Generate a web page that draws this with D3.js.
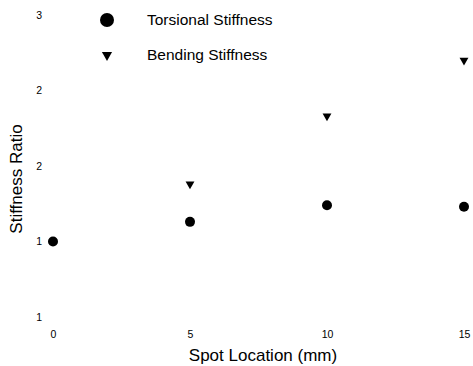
<!DOCTYPE html>
<html>
<head>
<meta charset="utf-8">
<script src="https://cdn.jsdelivr.net/npm/d3@7"></script>
<style>
  body { margin: 0; background: #fff; }
  svg { display: block; font-family: "Liberation Sans", Arial, sans-serif; }
</style>
</head>
<body>
<div id="chart"></div>
<script>
// Data
const spots = [0, 5, 10, 15];
const torsional = [1.0, 1.13, 1.24, 1.23];
const bending = [null, 1.38, 1.83, 2.20];
const yTicks = [0.5, 1.0, 1.5, 2.0, 2.5];
const yTickLabels = ["1", "1", "2", "2", "3"];
const xTicks = [0, 5, 10, 15];
const seriesNames = ["Torsional Stiffness", "Bending Stiffness"];

const width = 473;
const height = 366;

const x = d3.scaleLinear()
    .domain([0, 15])
    .range([53, 464]);

const y = d3.scaleLinear()
    .domain([0.5, 2.5])
    .range([317, 15]);

const svg = d3.select("#chart").append("svg")
    .attr("width", width)
    .attr("height", height);

// y axis (labels only)
svg.append("g")
    .attr("transform", "translate(42,0)")
    .call(d3.axisLeft(y).tickValues(yTicks).tickSize(0).tickPadding(0)
        .tickFormat((d, i) => yTickLabels[i]))
    .call(g => g.select(".domain").remove())
    .call(g => g.selectAll("text")
        .attr("font-size", 10.5)
        .attr("font-family", "Liberation Sans, Arial, sans-serif")
        .attr("fill", "#000"));

// x axis (labels only)
svg.append("g")
    .attr("transform", "translate(0,331)")
    .call(d3.axisBottom(x).tickValues(xTicks).tickSize(0).tickPadding(0))
    .call(g => g.select(".domain").remove())
    .call(g => g.selectAll("text")
        .attr("font-size", 10.5)
        .attr("font-family", "Liberation Sans, Arial, sans-serif")
        .attr("fill", "#000"));

// axis titles
svg.append("text")
    .attr("x", 263)
    .attr("y", 361)
    .attr("text-anchor", "middle")
    .attr("font-size", 17)
    .text("Spot Location (mm)");

svg.append("text")
    .attr("transform", "translate(22,179) rotate(-90)")
    .attr("text-anchor", "middle")
    .attr("font-size", 17)
    .text("Stiffness Ratio");

const tri = d3.symbol().type(d3.symbolTriangle);

// torsional points
svg.append("g")
    .selectAll("circle")
    .data(spots.map((s, i) => ({ s, v: torsional[i] })))
    .join("circle")
    .attr("cx", d => x(d.s))
    .attr("cy", d => y(d.v))
    .attr("r", 5)
    .attr("fill", "#000");

// bending points (down triangles)
svg.append("g")
    .selectAll("path")
    .data(spots.map((s, i) => ({ s, v: bending[i] })).filter(d => d.v != null))
    .join("path")
    .attr("d", tri.size(34))
    .attr("transform", d => `translate(${x(d.s)},${y(d.v)}) rotate(180)`)
    .attr("fill", "#000");

// legend
const legend = svg.append("g");
legend.append("circle")
    .attr("cx", 107)
    .attr("cy", 20)
    .attr("r", 7)
    .attr("fill", "#000");
legend.append("path")
    .attr("d", tri.size(45))
    .attr("transform", "translate(107,55) rotate(180)")
    .attr("fill", "#000");
legend.selectAll("text")
    .data(seriesNames)
    .join("text")
    .attr("x", 147)
    .attr("y", (d, i) => 20 + i * 35)
    .attr("dy", "0.35em")
    .attr("font-size", 15.5)
    .text(d => d);
</script>
</body>
</html>
